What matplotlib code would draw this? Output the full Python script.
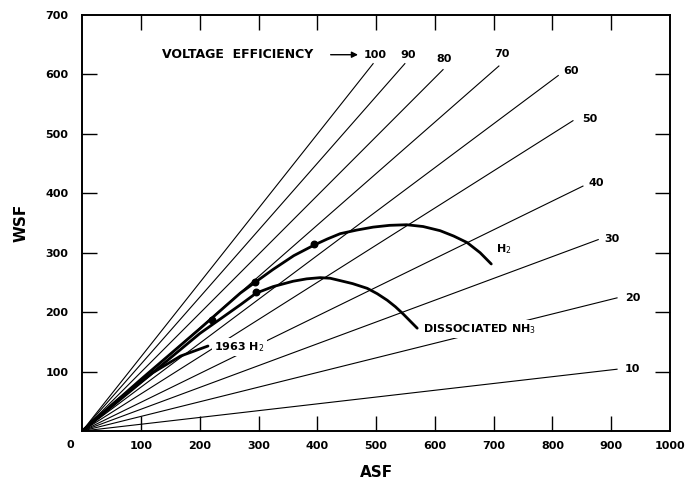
import matplotlib
matplotlib.use("Agg")
import matplotlib.pyplot as plt

# voltage efficiency lines (percent) and where each one stops
eff = [100, 90, 80, 70, 60, 50, 40, 30, 20, 10]
end_asf = [495, 549, 614, 709, 810, 835, 852, 878, 910, 910]
end_wsf = [618, 618, 608, 614, 598, 522, 412, 322, 224, 104]

# label anchors for the efficiency values
lbl_asf = [499, 555, 615, 715, 818, 850, 862, 889, 923, 923]
lbl_wsf = [633, 633, 626, 635, 605, 525, 418, 323, 224, 104]

# H2 curve
h2_asf = [0, 100, 200, 269, 294, 325, 360, 395, 417, 439, 467, 495, 523,
          552, 580, 609, 632, 655, 677, 696]
h2_wsf = [0, 87, 172, 232, 250, 272, 295, 313, 323, 332, 338, 343, 346,
          347, 344, 337, 328, 317, 300, 281]

# dissociated NH3 curve
nh3_asf = [0, 99, 200, 240, 270, 296, 325, 359, 382, 405, 422, 439, 460,
           485, 502, 519, 533, 546, 558, 570]
nh3_wsf = [0, 81, 164, 192, 213, 232, 243, 252, 256, 258, 257, 253, 248,
           240, 231, 220, 209, 197, 185, 173]

# 1963 H2 curve
h63_asf = [0, 60, 120, 167, 214]
h63_wsf = [0, 52, 98, 126, 143]

# measured points
pt_asf = [221, 294, 296, 395]
pt_wsf = [187, 250, 234, 315]

bold = dict(fontweight="bold", family="DejaVu Sans")

fig = plt.figure(figsize=(6.85, 4.8), dpi=100)
ax = fig.add_axes([0.12, 0.102, 0.858, 0.867])

for x1, y1 in zip(end_asf, end_wsf):
    ax.plot([0, x1], [0, y1], color="black", lw=0.8, zorder=1)

for xs, ys in [(h2_asf, h2_wsf), (nh3_asf, nh3_wsf), (h63_asf, h63_wsf)]:
    ax.plot(xs, ys, color="black", lw=2.0, zorder=3,
            solid_joinstyle="round", solid_capstyle="round")
ax.scatter(pt_asf, pt_wsf, s=22, color="black", zorder=4)

box = dict(facecolor="white", edgecolor="none", pad=1.5)
for i, (lx, ly) in enumerate(zip(lbl_asf, lbl_wsf)):
    ha = "center" if i < 4 else "left"
    ax.text(lx, ly, str(eff[i]), ha=ha, va="center", fontsize=8, zorder=5, **bold)

ax.text(136, 633, "VOLTAGE  EFFICIENCY", ha="left", va="center", fontsize=9, zorder=5, **bold)
ax.annotate("", xy=(474, 633), xytext=(418, 633),
            arrowprops=dict(arrowstyle="-|>", color="black", lw=1.0, mutation_scale=9))

ax.text(704, 306, "H$_2$", ha="left", va="center", fontsize=8, zorder=5, **bold)
ax.text(225, 141, "1963 H$_2$", ha="left", va="center", fontsize=8, zorder=5, bbox=box, **bold)
ax.text(580, 172, "DISSOCIATED NH$_3$", ha="left", va="center", fontsize=8, zorder=5, bbox=box, **bold)

ax.set_xlim(0, 1000)
ax.set_ylim(0, 700)
ax.set_xticks(range(100, 1001, 100))
ax.set_yticks(range(100, 701, 100))
for s in ax.spines.values():
    s.set_linewidth(1.4)
ax.tick_params(direction="in", length=11, width=1.0, top=True, right=True, pad=7)
ax.tick_params(axis="y", pad=10)
for lab in ax.get_xticklabels() + ax.get_yticklabels():
    lab.set_fontweight("bold")
    lab.set_fontsize(8)
# the end ticks sit on the frame
ax.xaxis.get_major_ticks()[-1].tick1line.set_visible(False)
ax.xaxis.get_major_ticks()[-1].tick2line.set_visible(False)
ax.yaxis.get_major_ticks()[-1].tick1line.set_visible(False)
ax.yaxis.get_major_ticks()[-1].tick2line.set_visible(False)

ax.text(-0.02, -0.022, "0", transform=ax.transAxes, ha="center", va="top", fontsize=8, **bold)
ax.set_xlabel("ASF", fontsize=11, labelpad=10, **bold)
ax.set_ylabel("WSF", fontsize=11, labelpad=12, **bold)

fig.savefig("out.png", dpi=100)
